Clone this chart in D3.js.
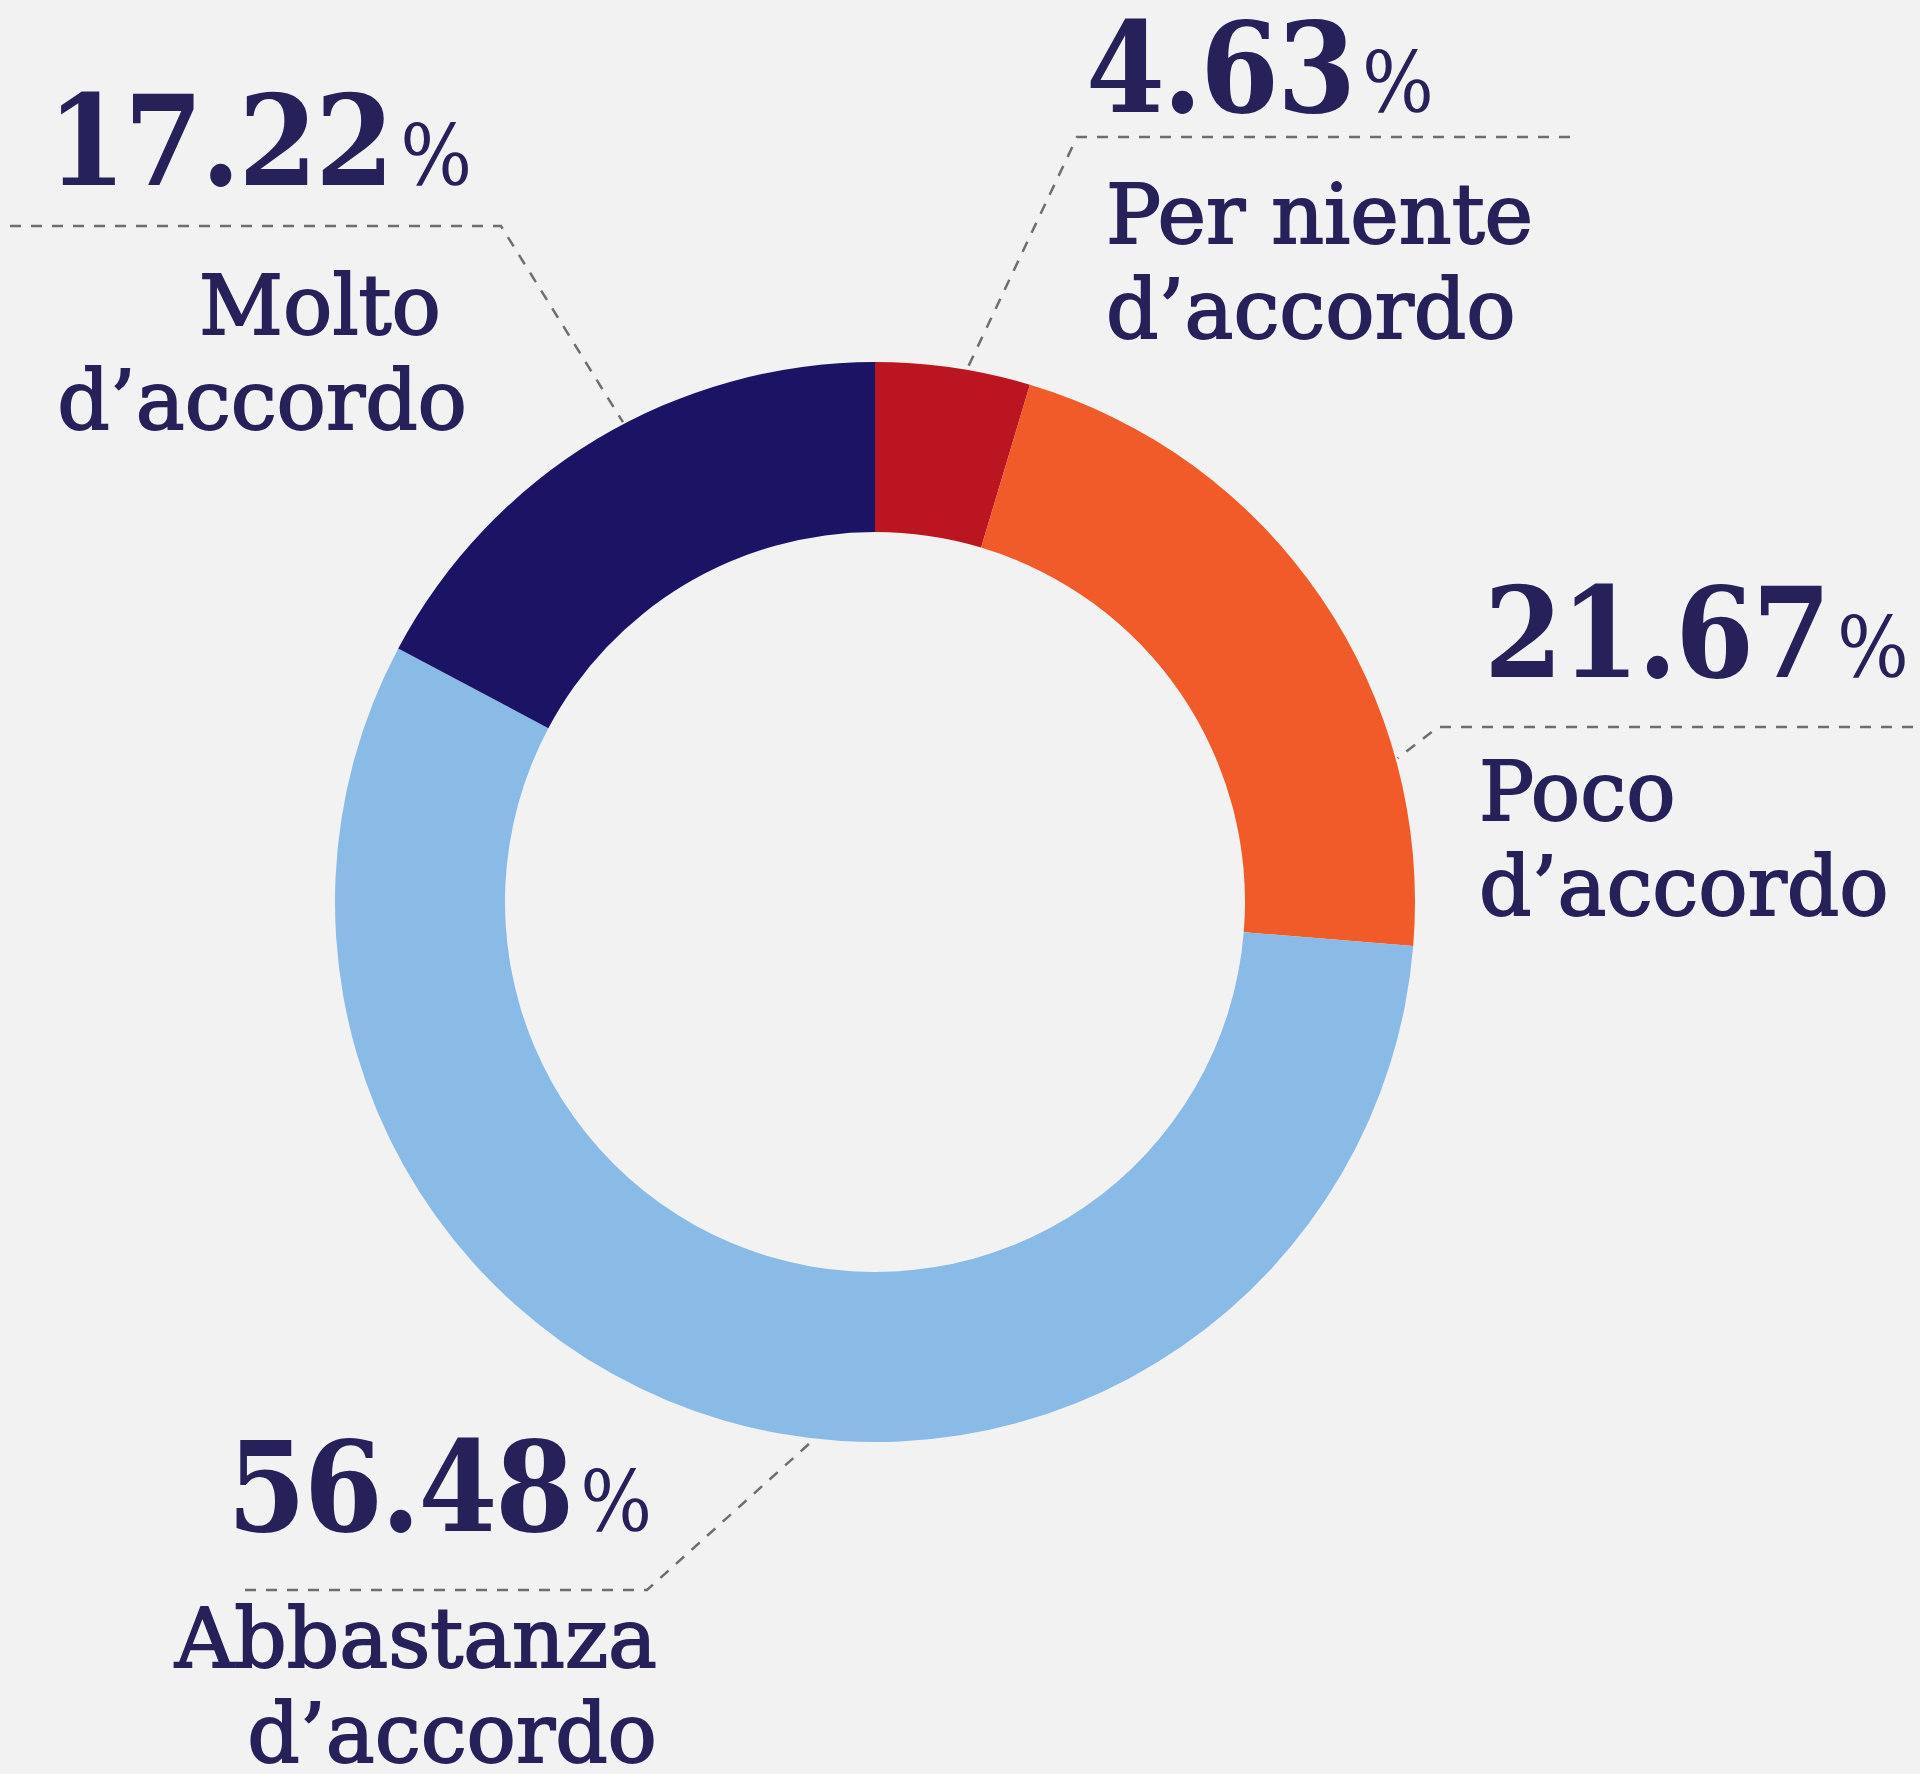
<!DOCTYPE html>
<html>
<head>
<meta charset="utf-8">
<script src="https://cdn.jsdelivr.net/npm/d3@7"></script>
<style>
  html, body { margin: 0; padding: 0; background: #f2f2f2; }
  svg { display: block; }
</style>
</head>
<body>
<div id="chart"></div>
<script>
// survey answers, clockwise from 12 o'clock
var categories = ["Per niente d’accordo", "Poco d’accordo", "Abbastanza d’accordo", "Molto d’accordo"];
var values = [4.63, 21.67, 56.48, 17.22];
var colors = ["#bc1522", "#f15a29", "#8abbe6", "#1b1464"];
var labelLines = [
    ["Per niente", "d’accordo"],
    ["Poco", "d’accordo"],
    ["Abbastanza", "d’accordo"],
    ["Molto\u00A0", "d’accordo"]
];

var width = 1920, height = 1774;
var cx = 875, cy = 902;
var outerR = 540, innerR = 370;
var textColor = "#27215a";
var lineColor = "#6e6e6e";

// where each callout sits (frac = how far along the slice the leader touches it)
var layout = [
    {anchor: "start", x: 1086, numY: 112, labX: 1106, labY: 243, kneeX: 1077, kneeY: 137, lineX: 1570, frac: 0.59},
    {anchor: "start", x: 1484, numY: 677, labX: 1479, labY: 820, kneeX: 1438, kneeY: 727, lineX: 1913, frac: 0.743},
    {anchor: "end",   x: 652,  numY: 1531, labX: 657, labY: 1667, kneeX: 647, kneeY: 1590, lineX: 245, frac: 0.452},
    {anchor: "end",   x: 472,  numY: 185, labX: 467, labY: 334, kneeX: 501, kneeY: 226, lineX: 10, frac: 0.553}
];

var svg = d3.select("#chart")
    .append("svg")
    .attr("width", width)
    .attr("height", height);

svg.append("rect")
    .attr("width", width)
    .attr("height", height)
    .attr("fill", "#f2f2f2");

var pie = d3.pie().sort(null).value(function(d) { return d; });
var arcs = pie(values);

var arc = d3.arc().innerRadius(innerR).outerRadius(outerR);

var g = svg.append("g").attr("transform", "translate(" + cx + "," + cy + ")");

g.selectAll("path")
    .data(arcs)
    .enter()
    .append("path")
    .attr("d", arc)
    .attr("fill", function(d, i) { return colors[i]; });

// leaders
arcs.forEach(function(d, i) {
    var L = layout[i];
    var a = d.startAngle + (d.endAngle - d.startAngle) * L.frac;
    var r = outerR + 2;
    var ex = cx + r * Math.sin(a);
    var ey = cy - r * Math.cos(a);

    svg.append("path")
        .attr("d", d3.line()([[L.lineX, L.kneeY], [L.kneeX, L.kneeY], [ex, ey]]))
        .attr("fill", "none")
        .attr("stroke", lineColor)
        .attr("stroke-width", 2.5)
        .attr("stroke-dasharray", "11,10");
});

// numbers + labels
arcs.forEach(function(d, i) {
    var L = layout[i];

    var num = svg.append("text")
        .attr("x", L.x)
        .attr("y", L.numY)
        .attr("text-anchor", L.anchor)
        .attr("fill", textColor)
        .style("font-family", "'DejaVu Serif Condensed', 'DejaVu Serif', serif")
        .style("font-stretch", "condensed");

    num.append("tspan")
        .style("font-size", "126px")
        .style("font-weight", "bold")
        .style("letter-spacing", "-2px")
        .text(values[i].toFixed(2));

    num.append("tspan")
        .attr("dx", 8)
        .style("font-size", "84px")
        .style("font-weight", "normal")
        .text("%");

    var lab = svg.append("text")
        .attr("text-anchor", L.anchor)
        .attr("fill", textColor)
        .attr("stroke", textColor)
        .attr("stroke-width", 1.8)
        .style("font-family", "'DejaVu Serif', serif")
        .style("font-size", "82px");

    labelLines[i].forEach(function(line, k) {
        lab.append("tspan")
            .attr("x", L.labX)
            .attr("y", L.labY + k * 95)
            .text(line);
    });
});
</script>
</body>
</html>
